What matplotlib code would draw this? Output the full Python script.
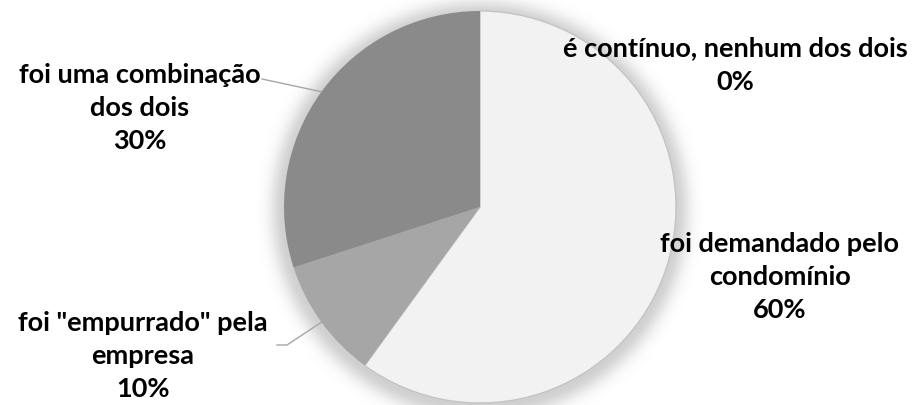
import numpy as np
import matplotlib.pyplot as plt

categories = ['é contínuo, nenhum dos dois', 'foi demandado pelo\ncondomínio',
              'foi "empurrado" pela\nempresa', 'foi uma combinação\ndos dois']
values = [0, 60, 10, 30]
colors = ['#d9d9d9', '#f2f2f2', '#a6a6a6', '#8a8a8a']

W, H = 916, 405
cx, cy, R = 480, 198, 196

fig = plt.figure(figsize=(W / 100, H / 100), dpi=100)
ax = fig.add_axes([0, 0, 1, 1])

# soft shadow around the pie
yy, xx = np.mgrid[0:H, 0:W]
d = np.hypot(xx + 0.5 - cx, yy + 0.5 - (cy - 3))
glow = np.where(d > R, np.exp(-((d - R) / 14.0) ** 2), 1.0) * 0.28
shadow = np.zeros((H, W, 4))
shadow[..., :3] = 0.35
shadow[..., 3] = glow
ax.imshow(shadow, extent=(0, W, 0, H), origin='lower', zorder=0)

wedges, _ = ax.pie(values, colors=colors, startangle=90, counterclock=False,
                   center=(cx, cy), radius=R, frame=True,
                   wedgeprops=dict(linewidth=0))
for w in wedges:
    w.set_zorder(2)
wedges[1].set_edgecolor('#c4c4c4')
wedges[1].set_linewidth(1.0)
ax.set_xlim(0, W)
ax.set_ylim(0, H)
ax.set_aspect('auto')
ax.axis('off')

font = dict(family=['Lato', 'DejaVu Sans'], fontsize=19.5, fontweight='bold',
            color='black', ha='center', va='center', linespacing=1.45, zorder=5)

# label centres (pixels from top) and leader line start
label_pos = [(735, 65, None), (780, 277, None), (143, 356, (277, 345)), (140, 108, (262, 79))]

for w, cat, v, (lx, ly, lead) in zip(wedges, categories, values, label_pos):
    ax.text(lx, H - ly, f'{cat}\n{v}%', **font)
    if lead is not None:
        mid = np.deg2rad((w.theta1 + w.theta2) / 2)
        px, py = cx + R * np.cos(mid), cy + R * np.sin(mid)
        sx, sy = lead
        if sy > 300:
            ax.plot([sx, sx + 10, px], [H - sy, H - sy, py], color='#a6a6a6', lw=1, zorder=3)
        else:
            ax.plot([sx, px], [H - sy, py], color='#a6a6a6', lw=1, zorder=3)

fig.savefig('out.png', dpi=100, facecolor='white')
